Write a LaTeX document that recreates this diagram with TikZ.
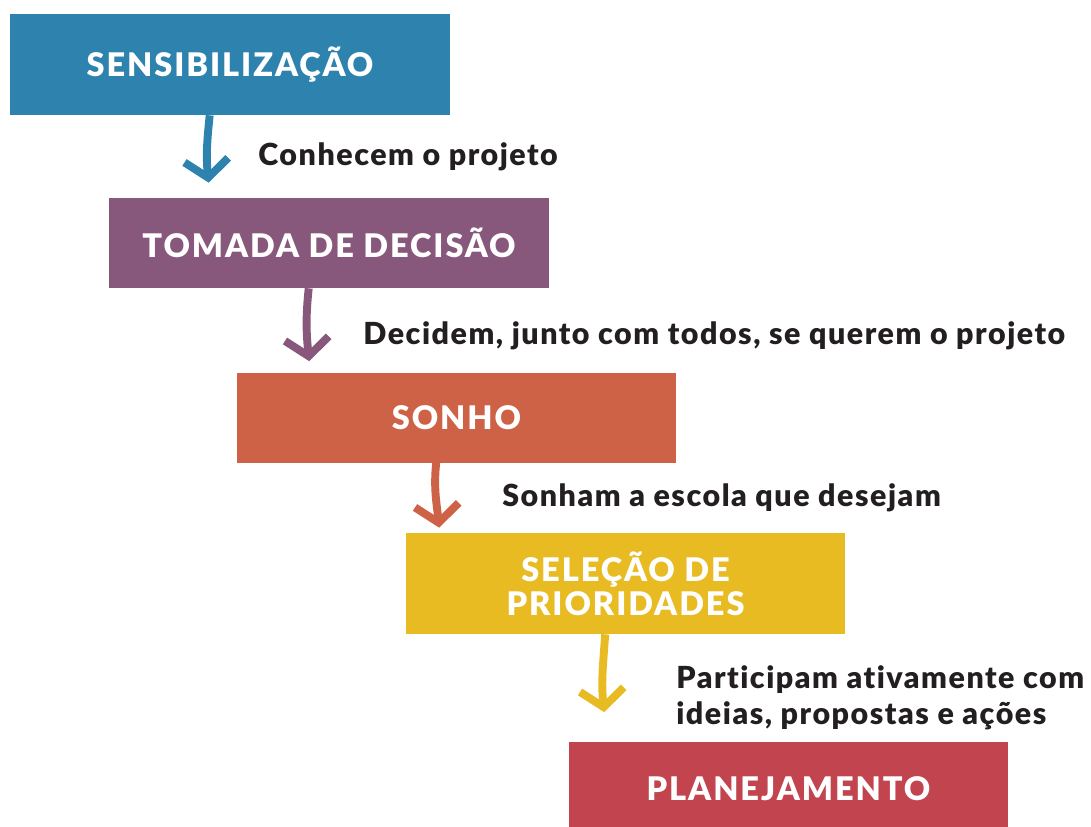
\documentclass[tikz,border=0pt]{standalone}
\usepackage{fontspec}
\setmainfont{Lato}[BoldFont={Lato Black}]
\newfontfamily\stagefont{Lato}[BoldFont={Lato Black}, LetterSpace=6, Ligatures=NoCommon]
\newfontfamily\notefont{Lato}[BoldFont={Lato Black}, LetterSpace=5, Ligatures=NoCommon]
\usetikzlibrary{arrows.meta, positioning, calc}
\definecolor{StageBlue}{HTML}{2E83AE}
\definecolor{StagePurple}{HTML}{87577C}
\definecolor{StageOrange}{HTML}{CE6246}
\definecolor{StageYellow}{HTML}{E8BB22}
\definecolor{StageRed}{HTML}{C1444E}
\definecolor{Ink}{HTML}{231F20}

\begin{document}
\begin{tikzpicture}[
      x=0.02cm, y=-0.02cm,
      stage/.style={minimum width=8.8cm, minimum height=1.8cm, align=center,
                    text=white, font=\stagefont\bfseries\fontsize{18.5}{21.5}\selectfont,
                    inner sep=0pt},
      note/.style={anchor=west, align=left, text=Ink,
                   font=\notefont\bfseries\fontsize{17.3}{20.5}\selectfont, inner sep=0pt},
      flow/.style={line width=4.5pt,
                   -{Straight Barb[length=10pt, width=25pt, line width=4.5pt]}}
    ]
      \useasboundingbox (0,0) rectangle (1091,826);

      % stages
      \node[stage, fill=StageBlue, minimum height=2.02cm] (sens) at (230,64.5) {SENSIBILIZAÇÃO};
      \node[stage, fill=StagePurple] (deci) at (329,243) {TOMADA DE DECISÃO};
      \node[stage, fill=StageOrange] (sonho) at (456.5,417.5) {SONHO};
      \node[stage, fill=StageYellow, minimum height=2.02cm] (prio) at (625.5,583.5)
           {SELEÇÃO DE\\[-2pt]PRIORIDADES};
      \node[stage, fill=StageRed, minimum height=1.9cm] (plan) at (788.5,789) {PLANEJAMENTO};

      % arrow ends
      \coordinate (e1) at ($(deci.north west)+(100,-15)$);
      \coordinate (e2) at ($(sonho.north west)+(73,-11)$);
      \coordinate (e3) at ($(prio.north west)+(34,-5)$);
      \coordinate (e4) at ($(plan.north west)+(36,-29)$);

      \draw[flow, StageBlue] ($(sens.south west)+(200,0)$) to[out=-96,in=96] (e1);
      \draw[flow, StagePurple] ($(deci.south west)+(200,0)$) to[out=-96,in=96] (e2);
      \draw[flow, StageOrange] ($(sonho.south west)+(200,0)$) to[out=-96,in=96] (e3);
      \draw[flow, StageYellow] ($(prio.south west)+(200,0)$) to[out=-94,in=96] (e4);

      % labels
      \node[note] (n1) at (258,157) {Conhecem o projeto};
      \node[note] (n2) at (363,336) {Decidem, junto com todos, se querem o projeto};
      \node[note] (n3) at (502,498) {Sonham a escola que desejam};
      \node[note] (n4) at (676,698) {Participam ativamente com\\ideias, propostas e ações};
    \end{tikzpicture}
\end{document}
